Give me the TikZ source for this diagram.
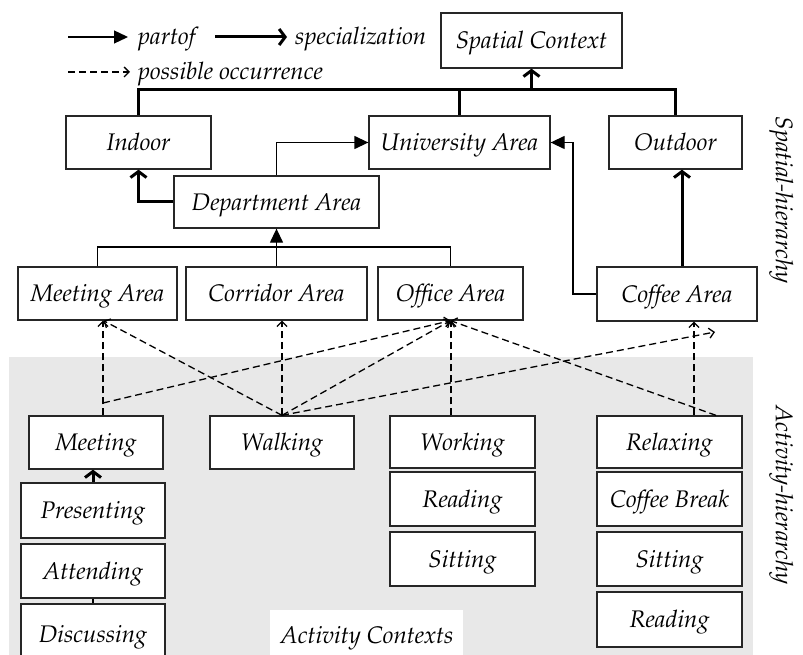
\documentclass[tikz,border=0pt]{standalone}
\usepackage[T1]{fontenc}
\usepackage{mathpazo}
\usetikzlibrary{arrows.meta,calc}
\definecolor{panel}{HTML}{E8E8E8}
\begin{document}
\begin{tikzpicture}[x=1pt,y=-1pt,
  lbl/.style={font=\fontsize{24}{27}\selectfont\itshape},
  ctr/.style={lbl, text height=16.5pt, text depth=0pt},
  box/.style={draw=black!85, line width=1.3pt, fill=white, ctr, inner sep=0pt},
  thn/.style={line width=1.3pt},
  thk/.style={line width=3pt},
  dsh/.style={line width=1.3pt, dash pattern=on 7pt off 4pt},
  part/.style={-{Triangle[length=14pt,width=13pt]}},
  spec/.style={-{Straight Barb[length=6pt,width=16pt]}},
  occ/.style={-{Straight Barb[length=5pt,width=10pt]}},
]
% box given by left, top, right, bottom
\newcommand\ctxbox[6]{\node[box, minimum width={(#4-#2)*1pt}, minimum height={(#5-#3)*1pt}] (#1) at ({(#2+#4)/2},{(#3+#5)/2}) {#6};}

\clip (0,0) rectangle (803,655);

% activity panel
\fill[panel] (9,357) rectangle (753,655);
\fill[white] (270,610) rectangle (463,655);
\node[ctr, inner sep=0pt] (actctx) at (367,635) {Activity Contexts};

% legend
\coordinate (la1) at (68,37);  \coordinate (lb1) at (128,37);
\coordinate (la2) at (215,37); \coordinate (lb2) at (287,37);
\coordinate (la3) at (68,72);  \coordinate (lb3) at (130,72);
\draw[thn,part] (la1) -- (lb1);
\draw[thk,spec] (la2) -- (lb2);
\draw[dsh,occ] (la3) -- (lb3);
\node[lbl, anchor=base west, inner sep=0pt] (tpart) at (138,45) {partof};
\node[lbl, anchor=base west, inner sep=0pt] (tspec) at (295,45) {specialization};
\node[lbl, anchor=base west, inner sep=0pt] (tocc) at (138,80) {possible occurrence};

% spatial hierarchy
\ctxbox{sc}{441}{13}{622}{68}{Spatial Context}
\ctxbox{indoor}{66}{116}{211}{169}{Indoor}
\ctxbox{univ}{369}{116}{550}{169}{University Area}
\ctxbox{outdoor}{609}{116}{742}{169}{Outdoor}
\ctxbox{dept}{174}{176}{379}{228}{Department Area}
\ctxbox{meetA}{18}{267}{177}{320}{Meeting Area}
\ctxbox{corrA}{186}{267}{367}{320}{Corridor Area}
\ctxbox{officeA}{378}{267}{523}{320}{Office Area}
\ctxbox{coffeeA}{597}{267}{757}{321}{Coffee Area}

% activity hierarchy
\ctxbox{meeting}{29}{416}{163}{469}{Meeting}
\ctxbox{presenting}{21}{483}{165}{538}{Presenting}
\ctxbox{attending}{21}{544}{165}{598}{Attending}
\ctxbox{discussing}{21}{604}{165}{664}{Discussing}
\ctxbox{walking}{210}{416}{354}{469}{Walking}
\ctxbox{working}{390}{416}{535}{468}{Working}
\ctxbox{readingA}{390}{472}{535}{526}{Reading}
\ctxbox{sittingA}{390}{532}{535}{586}{Sitting}
\ctxbox{relaxing}{597}{416}{742}{468}{Relaxing}
\ctxbox{coffeebreak}{597}{472}{742}{526}{Coffee Break}
\ctxbox{sittingB}{597}{532}{742}{586}{Sitting}
\ctxbox{readingB}{597}{592}{742}{647}{Reading}

% side labels
\node[ctr, inner sep=0pt, rotate=-90] (sidesp) at (784,200) {Spatial-hierarchy};
\node[ctr, inner sep=0pt, rotate=-90] (sideact) at (784,495) {Activity-hierarchy};

% specialization links (thick)
\coordinate (busy) at (0,90);
\draw[thk] (indoor.north) -- (indoor.north |- busy) -| (outdoor.north);
\draw[thk] (univ.north) -- (univ.north |- busy);
\draw[thk,spec] (sc.south |- busy) -- (sc.south);
\draw[thk,spec] (dept.west) -| (indoor.south);
\draw[thk,spec] ([xshift=5pt]coffeeA.north) -- ([xshift=5pt]coffeeA.north |- outdoor.south);
\draw[thk,spec] (presenting.north) -- (presenting.north |- meeting.south);

% part-of links (thin)
\coordinate (areabus) at (0,247);
\coordinate (cbend) at (573,294);
\draw[thn,part] (dept.north) |- (univ.west);
\draw[thn,part] (coffeeA.west) -- (cbend) |- (univ.east);
\draw[thn] (meetA.north) -- (meetA.north |- areabus) -| (officeA.north);
\draw[thn,part] (corrA.north) -- (dept.south);
\draw[thn] (attending.south) -- (discussing.north);

% possible occurrences (dashed)
\coordinate (mbranch) at (103,403);
\coordinate (coffeetip) at (715,332);
\draw[dsh,occ] ([xshift=7pt]meeting.north) -- ([xshift=7pt]meeting.north |- meetA.south);
\draw[dsh,occ] (mbranch) -- (officeA.south);
\draw[dsh,occ] (walking.north) -- ([xshift=6pt]meetA.south);
\draw[dsh,occ] (walking.north) -- (walking.north |- corrA.south);
\draw[dsh,occ] (walking.north) -- (officeA.south);
\draw[dsh,occ] (walking.north) -- (coffeetip);
\draw[dsh,occ] ([xshift=-11.5pt]working.north) -- ([xshift=-11.5pt]working.north |- officeA.south);
\draw[dsh,occ] ([xshift=46.5pt]relaxing.north) -- (officeA.south);
\draw[dsh,occ] ([xshift=24.5pt]relaxing.north) -- ([xshift=24.5pt]relaxing.north |- coffeeA.south);
\end{tikzpicture}
\end{document}
